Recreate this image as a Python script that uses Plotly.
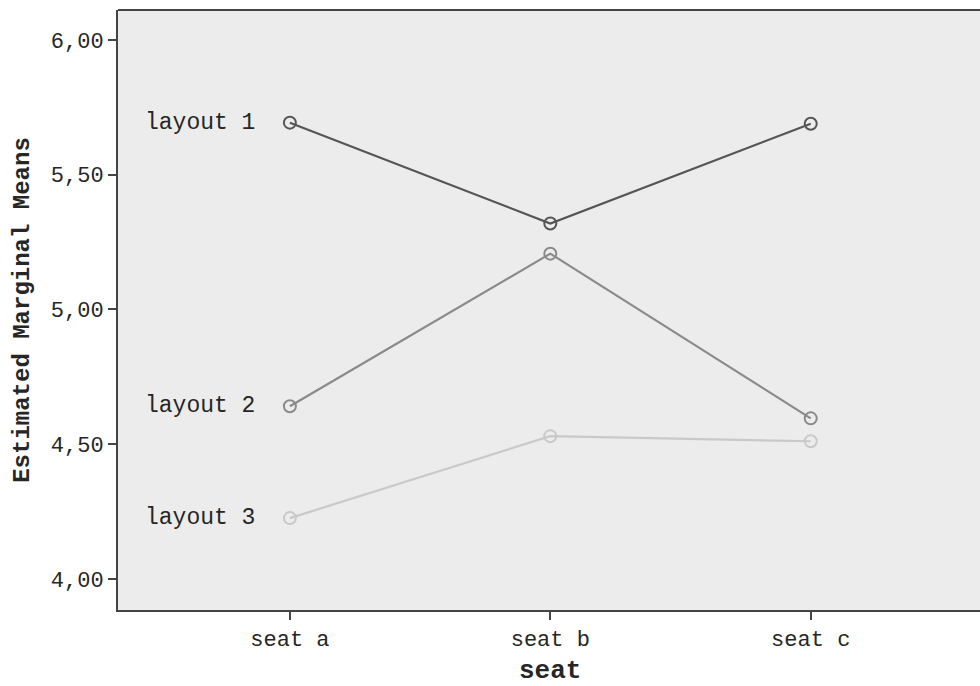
import plotly.graph_objects as go

seats = ["seat a", "seat b", "seat c"]
layouts = ["layout 1", "layout 2", "layout 3"]
means = {
    "layout 1": [5.693, 5.319, 5.689],
    "layout 2": [4.641, 5.207, 4.596],
    "layout 3": [4.226, 4.530, 4.511],
}
colors = {"layout 1": "#555555", "layout 2": "#8a8a8a", "layout 3": "#c9c9c9"}
yticks = [4.0, 4.5, 5.0, 5.5, 6.0]
x_title = "seat"
y_title = "Estimated Marginal Means"

FONT = "Liberation Mono, DejaVu Sans Mono, monospace"

fig = go.Figure()
for name in layouts:
    fig.add_trace(go.Scatter(
        x=list(range(len(seats))), y=means[name], mode="lines+markers", name=name,
        line=dict(color=colors[name], width=2.2),
        marker=dict(symbol="circle-open", size=12, color=colors[name], line=dict(width=2)),
        showlegend=False,
    ))
    fig.add_annotation(x=0, y=means[name][0], xref="x", yref="y", text=name,
                       showarrow=False, xanchor="right", xshift=-33,
                       font=dict(family=FONT, size=23, color="#262626"))

fig.add_shape(type="line", xref="paper", yref="paper", x0=0, x1=1, y0=1, y1=1,
              line=dict(color="#444444", width=2))

# x-axis title placed as annotation for precise vertical position
fig.add_annotation(x=1, y=0, xref="x", yref="paper", text=f"<b>{x_title}</b>",
                   showarrow=False, yanchor="middle", yshift=-61,
                   font=dict(family=FONT, size=26, color="#262626"))

fig.update_layout(
    width=980, height=686,
    margin=dict(l=118, r=0, t=10, b=76),
    paper_bgcolor="white", plot_bgcolor="#ececec",
    separators=",.",
    font=dict(family=FONT, color="#262626"),
    xaxis=dict(range=[-0.66, 2.65], tickmode="array", tickvals=list(range(len(seats))),
               ticktext=seats, showgrid=False, zeroline=False, showline=True,
               linecolor="#444444", linewidth=2, ticks="outside", ticklen=8,
               tickwidth=2, tickcolor="#444444", automargin=False,
               tickfont=dict(family=FONT, size=22, color="#262626")),
    yaxis=dict(range=[3.885, 6.111], tickmode="array", tickvals=yticks,
               tickformat=".2f", showgrid=False, zeroline=False, showline=True,
               linecolor="#444444", linewidth=2, ticks="outside", ticklen=8,
               tickwidth=2, tickcolor="#444444", automargin=False,
               tickfont=dict(family=FONT, size=22, color="#262626"),
               title=dict(text=f"<b>{y_title}</b>",
                          font=dict(family=FONT, size=24, color="#262626"), standoff=14)),
)

fig.write_html("out.html")
